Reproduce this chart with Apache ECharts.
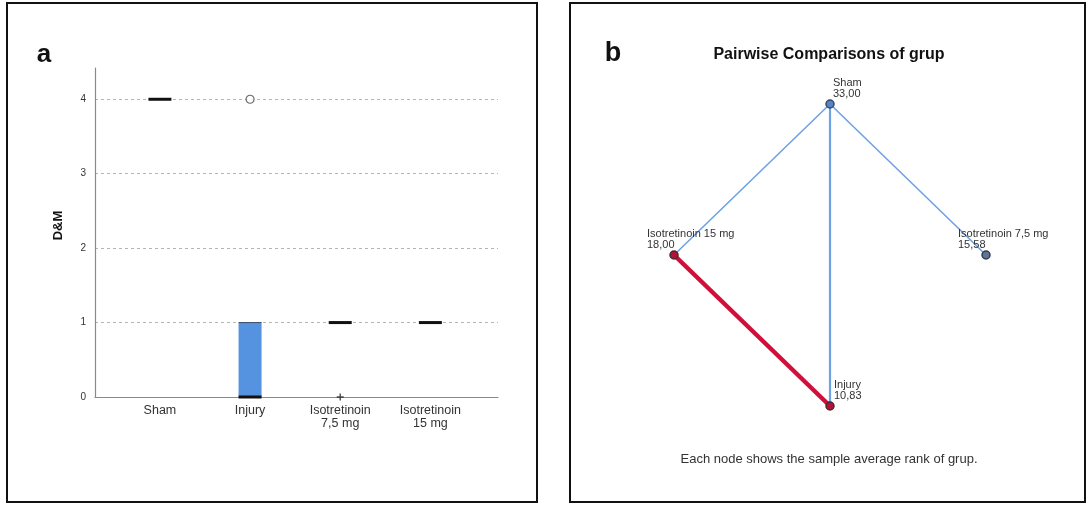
<!DOCTYPE html>
<html>
<head>
<meta charset="utf-8">
<script src="https://cdn.jsdelivr.net/npm/echarts@6/dist/echarts.min.js"></script>
<style>
  html, body { margin: 0; padding: 0; background: #fff; }
  #main { width: 1088px; height: 507px; }
</style>
</head>
<body>
<div id="main"></div>
<script>
// panel a: D&M scores per group (boxplot summary)
const groups = ['Sham', 'Injury', 'Isotretinoin\n7,5 mg', 'Isotretinoin\n15 mg'];
const q1Values = [4, 0, 1, 1];
const medianValues = [4, 0, 1, 1];
const q3Values = [4, 1, 1, 1];
const outlierPoints = [[1, 4]];   // [group index, value]
const extremePoints = [[2, 0]];
const yTicks = [0, 1, 2, 3, 4];

// panel b: pairwise comparisons (mean ranks)
const nodeNames = ['Sham', 'Isotretinoin 15 mg', 'Isotretinoin 7,5 mg', 'Injury'];
const meanRanks = [33.00, 18.00, 15.58, 10.83];
const nodeLayoutX = [0, -1, 1, 0];
const nodeLayoutY = [1, 0, 0, -1];
const pairLinks = [
    ['Sham', 'Isotretinoin 15 mg', false],
    ['Sham', 'Isotretinoin 7,5 mg', false],
    ['Sham', 'Injury', false],
    ['Isotretinoin 15 mg', 'Injury', true],
];

const FONT = '"Liberation Sans", Arial, sans-serif';

const boxData = groups.map((g, i) => [i, q1Values[i], medianValues[i], q3Values[i]]);

const nodeStyle = {
    'Sham': { color: '#5585c8', borderColor: '#3a4a60' },
    'Isotretinoin 15 mg': { color: '#b3123a', borderColor: '#4a2a30' },
    'Isotretinoin 7,5 mg': { color: '#5d7596', borderColor: '#333d4a' },
    'Injury': { color: '#b3123a', borderColor: '#4a2a30' },
};
const labelOffset = {
    'Sham': [3, 2],
    'Isotretinoin 15 mg': [-27, 2],
    'Isotretinoin 7,5 mg': [-28, 2],
    'Injury': [4, 2],
};

const graphNodes = nodeNames.map((n, i) => ({
    name: n,
    value: [nodeLayoutX[i], nodeLayoutY[i]],
    itemStyle: { color: nodeStyle[n].color, borderColor: nodeStyle[n].borderColor, borderWidth: 1.5 },
    label: {
        show: true,
        position: 'top',
        align: 'left',
        offset: labelOffset[n],
        formatter: n + '\n' + meanRanks[i].toFixed(2).replace('.', ','),
    },
}));

const graphLinks = pairLinks.map(([s, t, sig]) => ({
    source: s,
    target: t,
    lineStyle: sig
        ? { color: '#d0103a', width: 4.5, opacity: 1 }
        : { color: '#6ea2e4', width: t === 'Injury' ? 2.2 : 1.6, opacity: 1 },
}));

const option = {
    animation: false,
    textStyle: { fontFamily: FONT },
    grid: [
        { left: 95, top: 68, width: 403, height: 329 },
        { left: 674, top: 104, width: 312, height: 302 },
    ],
    xAxis: [
        {
            gridIndex: 0,
            type: 'value',
            min: -0.72,
            max: 3.75,
            splitLine: { show: false },
            axisTick: { show: false },
            axisLine: { show: true, onZero: false, lineStyle: { color: '#8a8a8a', width: 1.2 } },
            axisLabel: {
                customValues: [0, 1, 2, 3],
                formatter: (v) => groups[Math.round(v)],
                color: '#333',
                fontSize: 12.5,
                lineHeight: 13,
                margin: 7,
                fontFamily: FONT,
            },
        },
        { gridIndex: 1, type: 'value', min: -1, max: 1, show: false },
    ],
    yAxis: [
        {
            gridIndex: 0,
            type: 'value',
            min: 0,
            max: 4.42,
            interval: 1,
            name: 'D&M',
            nameLocation: 'middle',
            nameRotate: 90,
            nameGap: 30,
            nameTextStyle: { fontSize: 13, fontWeight: 'bold', color: '#111', fontFamily: FONT, padding: [0, 0, 0, 14] },
            axisTick: { show: false, customValues: yTicks },
            axisLine: { show: true, onZero: false, lineStyle: { color: '#8a8a8a', width: 1.2 } },
            axisLabel: {
                customValues: yTicks,
                color: '#333',
                fontSize: 10,
                margin: 9,
                fontFamily: FONT,
            },
            splitLine: { show: true, lineStyle: { color: '#b5b5b5', type: [3, 3], width: 1 } },
        },
        { gridIndex: 1, type: 'value', min: -1, max: 1, show: false },
    ],
    graphic: [
        { type: 'rect', shape: { x: 7, y: 3, width: 530, height: 499 }, style: { fill: 'none', stroke: '#111', lineWidth: 2 }, z: 10 },
        { type: 'rect', shape: { x: 570, y: 3, width: 515, height: 499 }, style: { fill: 'none', stroke: '#111', lineWidth: 2 }, z: 10 },
        { type: 'text', x: 44, y: 55, style: { text: 'a', font: 'bold 26px ' + FONT, fill: '#111', align: 'center', verticalAlign: 'middle' } },
        { type: 'text', x: 613, y: 54, style: { text: 'b', font: 'bold 27px ' + FONT, fill: '#111', align: 'center', verticalAlign: 'middle' } },
        { type: 'text', x: 829, y: 55, style: { text: 'Pairwise Comparisons of grup', font: 'bold 16px ' + FONT, fill: '#111', align: 'center', verticalAlign: 'middle' } },
        { type: 'text', x: 829, y: 459, style: { text: 'Each node shows the sample average rank of grup.', font: '13px ' + FONT, fill: '#333', align: 'center', verticalAlign: 'middle' } },
    ],
    series: [
        {
            type: 'custom',
            xAxisIndex: 0,
            yAxisIndex: 0,
            data: boxData,
            encode: { x: 0, y: [1, 2, 3] },
            renderItem: function (params, api) {
                const x = api.value(0);
                const lo = api.coord([x, api.value(1)]);
                const med = api.coord([x, api.value(2)]);
                const hi = api.coord([x, api.value(3)]);
                const half = 11.5;
                const children = [];
                if (hi[1] < lo[1]) {
                    children.push({
                        type: 'rect',
                        shape: { x: lo[0] - half, y: hi[1], width: half * 2, height: lo[1] - hi[1] },
                        style: { fill: '#5592e0' },
                    });
                    children.push({
                        type: 'line',
                        shape: { x1: hi[0] - half, y1: hi[1], x2: hi[0] + half, y2: hi[1] },
                        style: { stroke: '#3c4f6a', lineWidth: 1 },
                    });
                }
                children.push({
                    type: 'line',
                    shape: { x1: med[0] - half, y1: med[1], x2: med[0] + half, y2: med[1] },
                    style: { stroke: '#111', lineWidth: 3 },
                });
                return { type: 'group', children: children };
            },
            z: 3,
        },
        {
            type: 'scatter',
            xAxisIndex: 0,
            yAxisIndex: 0,
            data: outlierPoints,
            symbol: 'circle',
            symbolSize: 8,
            itemStyle: { color: '#fff', borderColor: '#444', borderWidth: 1.2 },
            z: 4,
        },
        {
            type: 'scatter',
            xAxisIndex: 0,
            yAxisIndex: 0,
            data: extremePoints,
            symbol: 'path://M4,0H6V4H10V6H6V10H4V6H0V4H4Z',
            symbolSize: 7,
            itemStyle: { color: '#222' },
            z: 4,
        },
        {
            type: 'graph',
            coordinateSystem: 'cartesian2d',
            xAxisIndex: 1,
            yAxisIndex: 1,
            layout: 'none',
            symbol: 'circle',
            symbolSize: 8,
            data: graphNodes,
            links: graphLinks,
            label: {
                color: '#333',
                fontSize: 11,
                lineHeight: 11,
                fontFamily: FONT,
                distance: 2,
            },
            emphasis: { disabled: true },
            z: 3,
        },
    ],
};

const chart = echarts.init(document.getElementById('main'));
chart.setOption(option);
</script>
</body>
</html>
